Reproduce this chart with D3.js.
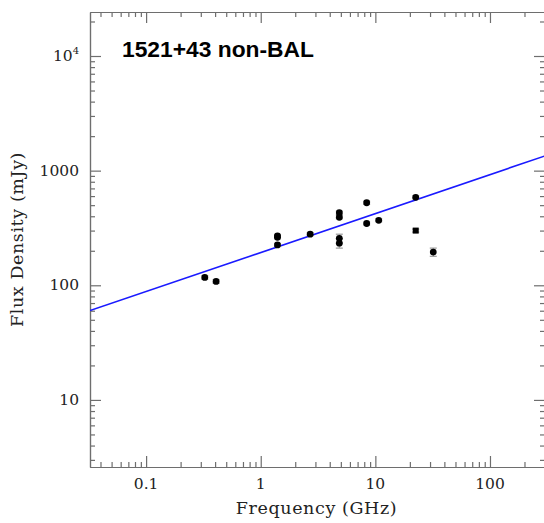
<!DOCTYPE html>
<html>
<head>
<meta charset="utf-8">
<script src="https://cdn.jsdelivr.net/npm/d3@7"></script>
<style>
  html, body { margin: 0; padding: 0; background: #fff; }
  svg { display: block; }
</style>
</head>
<body>
<svg id="chart" width="544" height="523"></svg>
<script>
// Radio spectrum of 1521+43: observed flux densities and a power-law fit.
const title = "1521+43 non-BAL";

// Frequencies (GHz), flux densities (mJy), 1-sigma errors (mJy), marker shape
const freqGHz = [0.325, 0.408, 1.4, 1.4, 1.4, 2.7, 4.85, 4.85, 4.85, 4.85, 8.4, 8.4, 10.7, 22.5, 22.5, 32];
const fluxMJy = [117, 108, 270, 262, 225, 279, 430, 392, 257, 233, 525, 346, 369, 585, 300, 195];
const fluxErr = [4, 4, 8, 8, 7, 8, 13, 12, 22, 22, 16, 10, 11, 18, 9, 16];
const marker  = ["o", "o", "o", "o", "o", "o", "o", "o", "o", "o", "o", "o", "o", "o", "s", "o"];

// Power-law fit S = S1 * (nu / 1 GHz)^alpha
const fitS1 = 193;
const fitAlpha = 0.34;

// Axis ticks and labels
const xMajor = [0.1, 1, 10, 100];
const xMajorLabels = ["0.1", "1", "10", "100"];
const yMajor = [10, 100, 1000, 10000];
const yMajorLabels = ["10", "100", "1000", null];

const xDomain = [0.0324, 302];
const yDomain = [2.6, 24200];

const svg = d3.select("#chart");
const L = 90, R = 545, T = 12, B = 467;

const x = d3.scaleLog().domain(xDomain).range([L, R]);
const y = d3.scaleLog().domain(yDomain).range([B, T]);

// minor ticks: 2..9 times each power of ten inside the domain
function minorTicks(domain) {
  const out = [];
  for (let e = -3; e <= 5; e++) {
    for (let m = 2; m <= 9; m++) {
      const v = m * Math.pow(10, e);
      if (v > domain[0] && v < domain[1]) out.push(v);
    }
  }
  return out;
}
const xMinor = minorTicks(xDomain);
const yMinor = minorTicks(yDomain);

const axisColor = "#6e6e6e";
const serif = "'DejaVu Serif', serif";

function styleAxis(g) {
  g.select(".domain").attr("stroke", axisColor).attr("stroke-width", 1.2);
  g.selectAll(".tick line").attr("stroke", axisColor).attr("stroke-width", 1.2);
  g.selectAll(".tick text").remove();
}

// frame: bottom/top/left/right with major and minor ticks pointing inward
function addAxis(axisFn, scale, transform, majors, minors) {
  svg.append("g").attr("transform", transform)
    .call(axisFn(scale).tickValues(minors).tickSizeInner(-5).tickSizeOuter(0).tickFormat(""))
    .call(styleAxis);
  svg.append("g").attr("transform", transform)
    .call(axisFn(scale).tickValues(majors).tickSizeInner(-11).tickSizeOuter(0).tickFormat(""))
    .call(styleAxis);
}
addAxis(d3.axisBottom, x, `translate(0,${B})`, xMajor, xMinor);
addAxis(d3.axisTop, x, `translate(0,${T})`, xMajor, xMinor);
addAxis(d3.axisLeft, y, `translate(${L},0)`, yMajor, yMinor);
addAxis(d3.axisRight, y, `translate(${R},0)`, yMajor, yMinor);

// tick labels
svg.append("g").selectAll("text").data(xMajor).join("text")
  .attr("x", d => x(d)).attr("y", B + 22)
  .attr("text-anchor", "middle")
  .attr("font-family", serif).attr("font-size", 15.5).attr("fill", "#222")
  .text((d, i) => xMajorLabels[i]);

svg.append("g").selectAll("text").data(yMajor).join("text")
  .attr("x", L - 11).attr("y", d => y(d) + 5)
  .attr("text-anchor", "end")
  .attr("font-family", serif).attr("font-size", 15.5).attr("fill", "#222")
  .each(function(d, i) {
    const t = d3.select(this);
    if (yMajorLabels[i] !== null) { t.text(yMajorLabels[i]); return; }
    const exp = Math.round(Math.log10(d));
    t.append("tspan").text("10");
    t.append("tspan").attr("dy", -7).attr("font-size", 10).text(String(exp));
  });

// axis titles
svg.append("text")
  .attr("x", (L + R) / 2 - 1).attr("y", 514)
  .attr("text-anchor", "middle")
  .attr("font-family", serif).attr("font-size", 17.5).attr("fill", "#222")
  .attr("letter-spacing", 0.6)
  .text("Frequency (GHz)");

svg.append("text")
  .attr("transform", `translate(23,${(T + B) / 2}) rotate(-90)`)
  .attr("text-anchor", "middle")
  .attr("font-family", serif).attr("font-size", 17.5).attr("fill", "#222")
  .attr("letter-spacing", 0.6)
  .text("Flux Density (mJy)");

// title
svg.append("text")
  .attr("x", 122).attr("y", 57)
  .attr("font-family", "'Liberation Sans', Arial, sans-serif")
  .attr("font-weight", "bold").attr("font-size", 22.8).attr("fill", "#000")
  .text(title);

// plot clip
svg.append("clipPath").attr("id", "plotClip")
  .append("rect").attr("x", L).attr("y", T).attr("width", R - L).attr("height", B - T);

const plot = svg.append("g").attr("clip-path", "url(#plotClip)");

// fitted power law across the full frequency range
const fitLine = d3.line()
  .x(d => x(d))
  .y(d => y(fitS1 * Math.pow(d, fitAlpha)));
plot.append("path")
  .datum(xDomain)
  .attr("d", fitLine)
  .attr("fill", "none")
  .attr("stroke", "#1a1aff")
  .attr("stroke-width", 1.6);

// data
const pts = freqGHz.map((f, i) => ({ f, s: fluxMJy[i], e: fluxErr[i], m: marker[i] }));

const err = plot.append("g").attr("stroke", "#9a9a9a").attr("stroke-width", 1.2);
pts.forEach(p => {
  const cx = x(p.f), y0 = y(p.s - p.e), y1 = y(p.s + p.e);
  err.append("line").attr("x1", cx).attr("x2", cx).attr("y1", y0).attr("y2", y1);
  err.append("line").attr("x1", cx - 3.5).attr("x2", cx + 3.5).attr("y1", y0).attr("y2", y0);
  err.append("line").attr("x1", cx - 3.5).attr("x2", cx + 3.5).attr("y1", y1).attr("y2", y1);
});

plot.append("g").selectAll("circle").data(pts.filter(p => p.m === "o")).join("circle")
  .attr("cx", d => x(d.f)).attr("cy", d => y(d.s)).attr("r", 3.4).attr("fill", "#000");

plot.append("g").selectAll("rect").data(pts.filter(p => p.m === "s")).join("rect")
  .attr("x", d => x(d.f) - 3).attr("y", d => y(d.s) - 3)
  .attr("width", 6).attr("height", 6).attr("fill", "#000");
</script>
</body>
</html>
